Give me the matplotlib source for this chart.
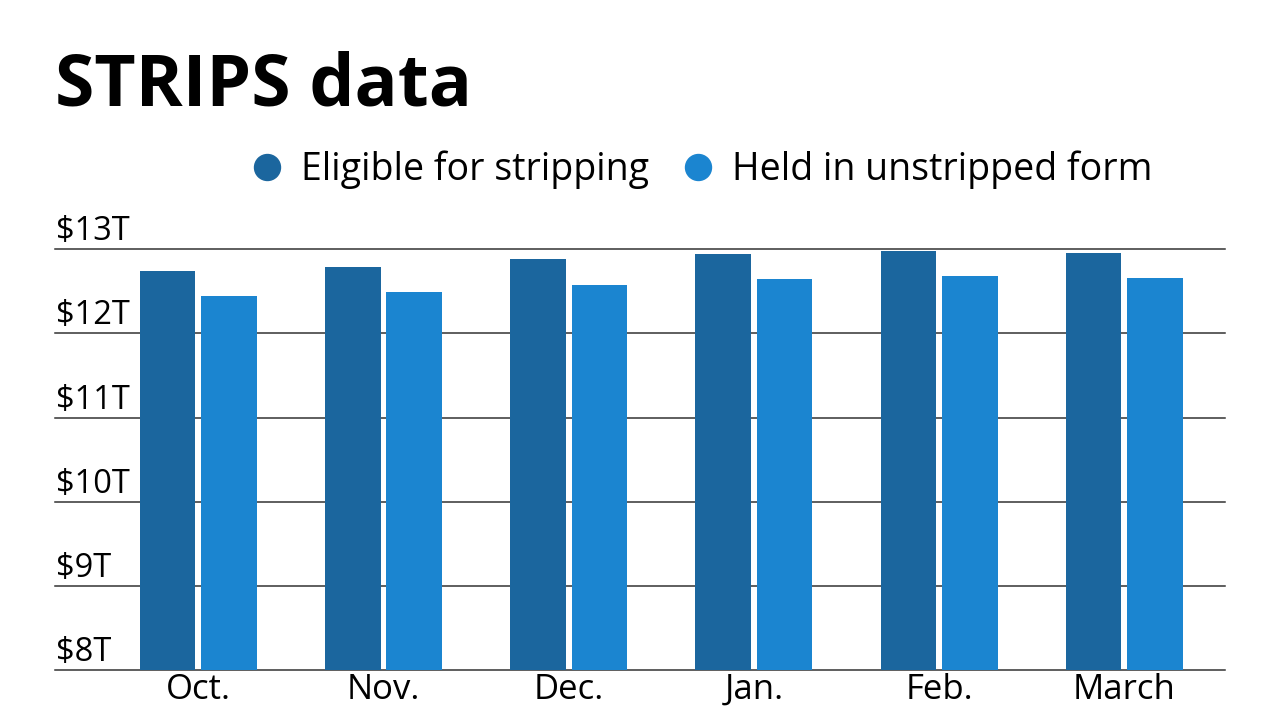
import numpy as np
import matplotlib.pyplot as plt
from matplotlib.lines import Line2D

plt.rcParams['font.family'] = ['Open Sans', 'DejaVu Sans']

# data (trillions of dollars)
months = ["Oct.", "Nov.", "Dec.", "Jan.", "Feb.", "March"]
eligible = [12.74, 12.79, 12.885, 12.95, 12.985, 12.96]
unstripped = [12.44, 12.49, 12.58, 12.65, 12.68, 12.655]
y_ticks = [8, 9, 10, 11, 12, 13]
y_labels = ["$8T", "$9T", "$10T", "$11T", "$12T", "$13T"]

dark = "#1b669e"
light = "#1b85d0"

fig = plt.figure(figsize=(12.8, 7.2), dpi=100)
ax = fig.add_axes([55 / 1280, 50 / 720, 1170 / 1280, 420.7 / 720])

x = np.arange(len(months))
w = 0.3
off = 0.166
ax.bar(x - off, eligible, w, color=dark, zorder=3)
ax.bar(x + off, unstripped, w, color=light, zorder=3)

ax.set_xlim(-0.774, 5.544)
ax.set_ylim(8, 13)

# gridlines and labels sitting above them
for v, lab in zip(y_ticks, y_labels):
    ax.axhline(v, color="#333333", lw=1.1, zorder=1, clip_on=False)
    ax.annotate(lab, xy=(0, v), xycoords=ax.get_yaxis_transform(),
                xytext=(1.0, 6.5), textcoords="offset points",
                ha="left", va="baseline", fontsize=23.5, color="black")

for s in ax.spines.values():
    s.set_visible(False)
ax.set_yticks([])
ax.set_xticks(x)
ax.set_xticklabels(months, fontsize=25)
ax.tick_params(axis="x", length=0, pad=2)

fig.text(55 / 1280, 1 - 105 / 720, "STRIPS data", fontsize=51.5,
         fontweight="bold", ha="left", va="baseline")

handles = [
    Line2D([], [], marker="o", ls="", markersize=18.7, color=dark),
    Line2D([], [], marker="o", ls="", markersize=18.7, color=light),
]
fig.legend(handles, ["Eligible for stripping", "Held in unstripped form"],
           loc="center", bbox_to_anchor=(703 / 1280, 1 - 170 / 720),
           bbox_transform=fig.transFigure, ncol=2, frameon=False,
           fontsize=27, handlelength=0.72, handletextpad=0.55,
           columnspacing=0.95, borderpad=0, borderaxespad=0)

fig.savefig("out.png", dpi=100)
